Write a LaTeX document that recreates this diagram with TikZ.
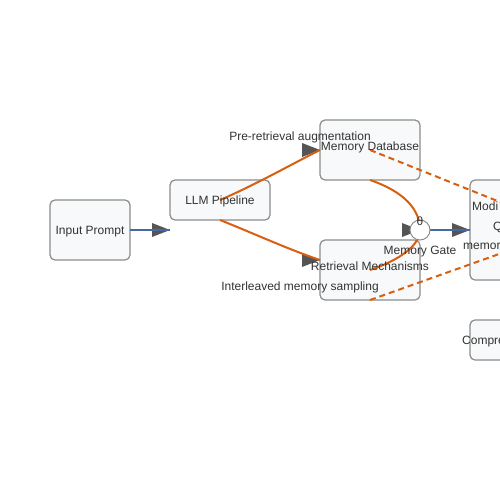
\documentclass[tikz,border=0pt]{standalone}
\usepackage{fontspec}
\setmainfont{Liberation Sans}
\usetikzlibrary{calc}
\definecolor{boxfill}{HTML}{F8F9FA}
\definecolor{boxline}{HTML}{8C8C8C}
\definecolor{orangeln}{HTML}{D95F0E}
\definecolor{blueln}{HTML}{4767A8}
\definecolor{headfill}{HTML}{555555}
\definecolor{txt}{HTML}{333333}
\tikzset{
  box/.style={draw=boxline, fill=boxfill, line width=1.2pt, rounded corners=5pt, inner sep=0pt},
  lbl/.style={text=txt, font=\fontsize{12pt}{14pt}\selectfont, inner sep=0pt, yshift=-1.5pt},
  oline/.style={draw=orangeln, line width=2pt},
  odash/.style={draw=orangeln, line width=2pt, dash pattern=on 6pt off 4pt},
  bline/.style={draw=blueln, line width=2pt},
  headtri/.style={fill=headfill},
}
\newcommand{\headat}[1]{\fill[headtri] (#1) -- ++(-18,7) -- ++(0,-14) -- cycle;}
\begin{document}
\begin{tikzpicture}[x=1pt,y=-1pt]
\useasboundingbox (0,0) rectangle (500,500);
\begin{scope}
\clip (0,0) rectangle (500,500);
% boxes
\node[box, minimum width=80pt, minimum height=60pt] (input) at (90,230) {};
\node[box, minimum width=100pt, minimum height=40pt] (llm) at (220,200) {};
\node[box, minimum width=100pt, minimum height=60pt] (db) at (370,150) {};
\node[box, minimum width=100pt, minimum height=60pt] (ret) at (370,270) {};
\node[box, minimum width=100pt, minimum height=100pt] (mod) at (520,230) {};
\node[box, minimum width=100pt, minimum height=40pt] (comp) at (520,340) {};
% coordinates
\coordinate (inR) at (130,230);
\coordinate (llmIn) at (170,230);
\coordinate (llmC) at (220,200);
\coordinate (llmB) at (220,220);
\coordinate (dbIn) at (320,150);
\coordinate (dbB) at (370,180);
\coordinate (retIn) at (320,260);
\coordinate (retC) at (370,270);
\coordinate (retB) at (370,300);
\coordinate (gateC) at (420,230);
\coordinate (gateR) at (430,230);
\coordinate (modIn) at (470,230);
\coordinate (dashA) at (530,214);
\coordinate (dashB) at (530,243);
% arrowheads
\headat{llmIn}
\headat{dbIn}
\headat{retIn}
\headat{gateC}
\headat{modIn}
% connectors
\draw[bline] (inR) -- (llmIn);
\draw[oline] (llmC) .. controls (255,185) and (290,165) .. (dbIn);
\draw[oline] (llmB) .. controls (255,234) and (290,250) .. (retIn);
\draw[oline] (dbB) .. controls (405,192) and (420,210) .. (gateC);
\draw[oline] (retC) .. controls (400,260) and (420,245) .. (gateC);
\draw[bline] (gateR) -- (modIn);
\draw[odash] (db.center) -- (dashA);
\draw[odash] (retB) -- (dashB);
% gate
\node[circle, draw=boxline, fill=white, line width=1pt, minimum size=20pt, inner sep=0pt] (gate) at (gateC) {};
% texts
\node[lbl] (tinput) at (90,230) {Input Prompt};
\node[lbl] (tllm) at (220,200) {LLM Pipeline};
\node[lbl] (tdb) at (370,146) {Memory Database};
\node[lbl] (tret) at (370,265) {Retrieval Mechanisms};
\node[lbl] (ttheta) at (420,220) {θ};
\node[lbl] (tgate) at (420,250) {Memory Gate};
\node[lbl] (tpre) at (300,136) {Pre-retrieval augmentation};
\node[lbl] (tinter) at (300,286) {Interleaved memory sampling};
\node[lbl, anchor=west] (tmod1) at (472,205) {Modi};
\node[lbl, anchor=west] (tmod2) at (493,226) {Q};
\node[lbl, anchor=west] (tmod3) at (463,245) {memor};
\node[lbl, anchor=west] (tcomp) at (462,340) {Compre};
\end{scope}
\end{tikzpicture}
\end{document}
